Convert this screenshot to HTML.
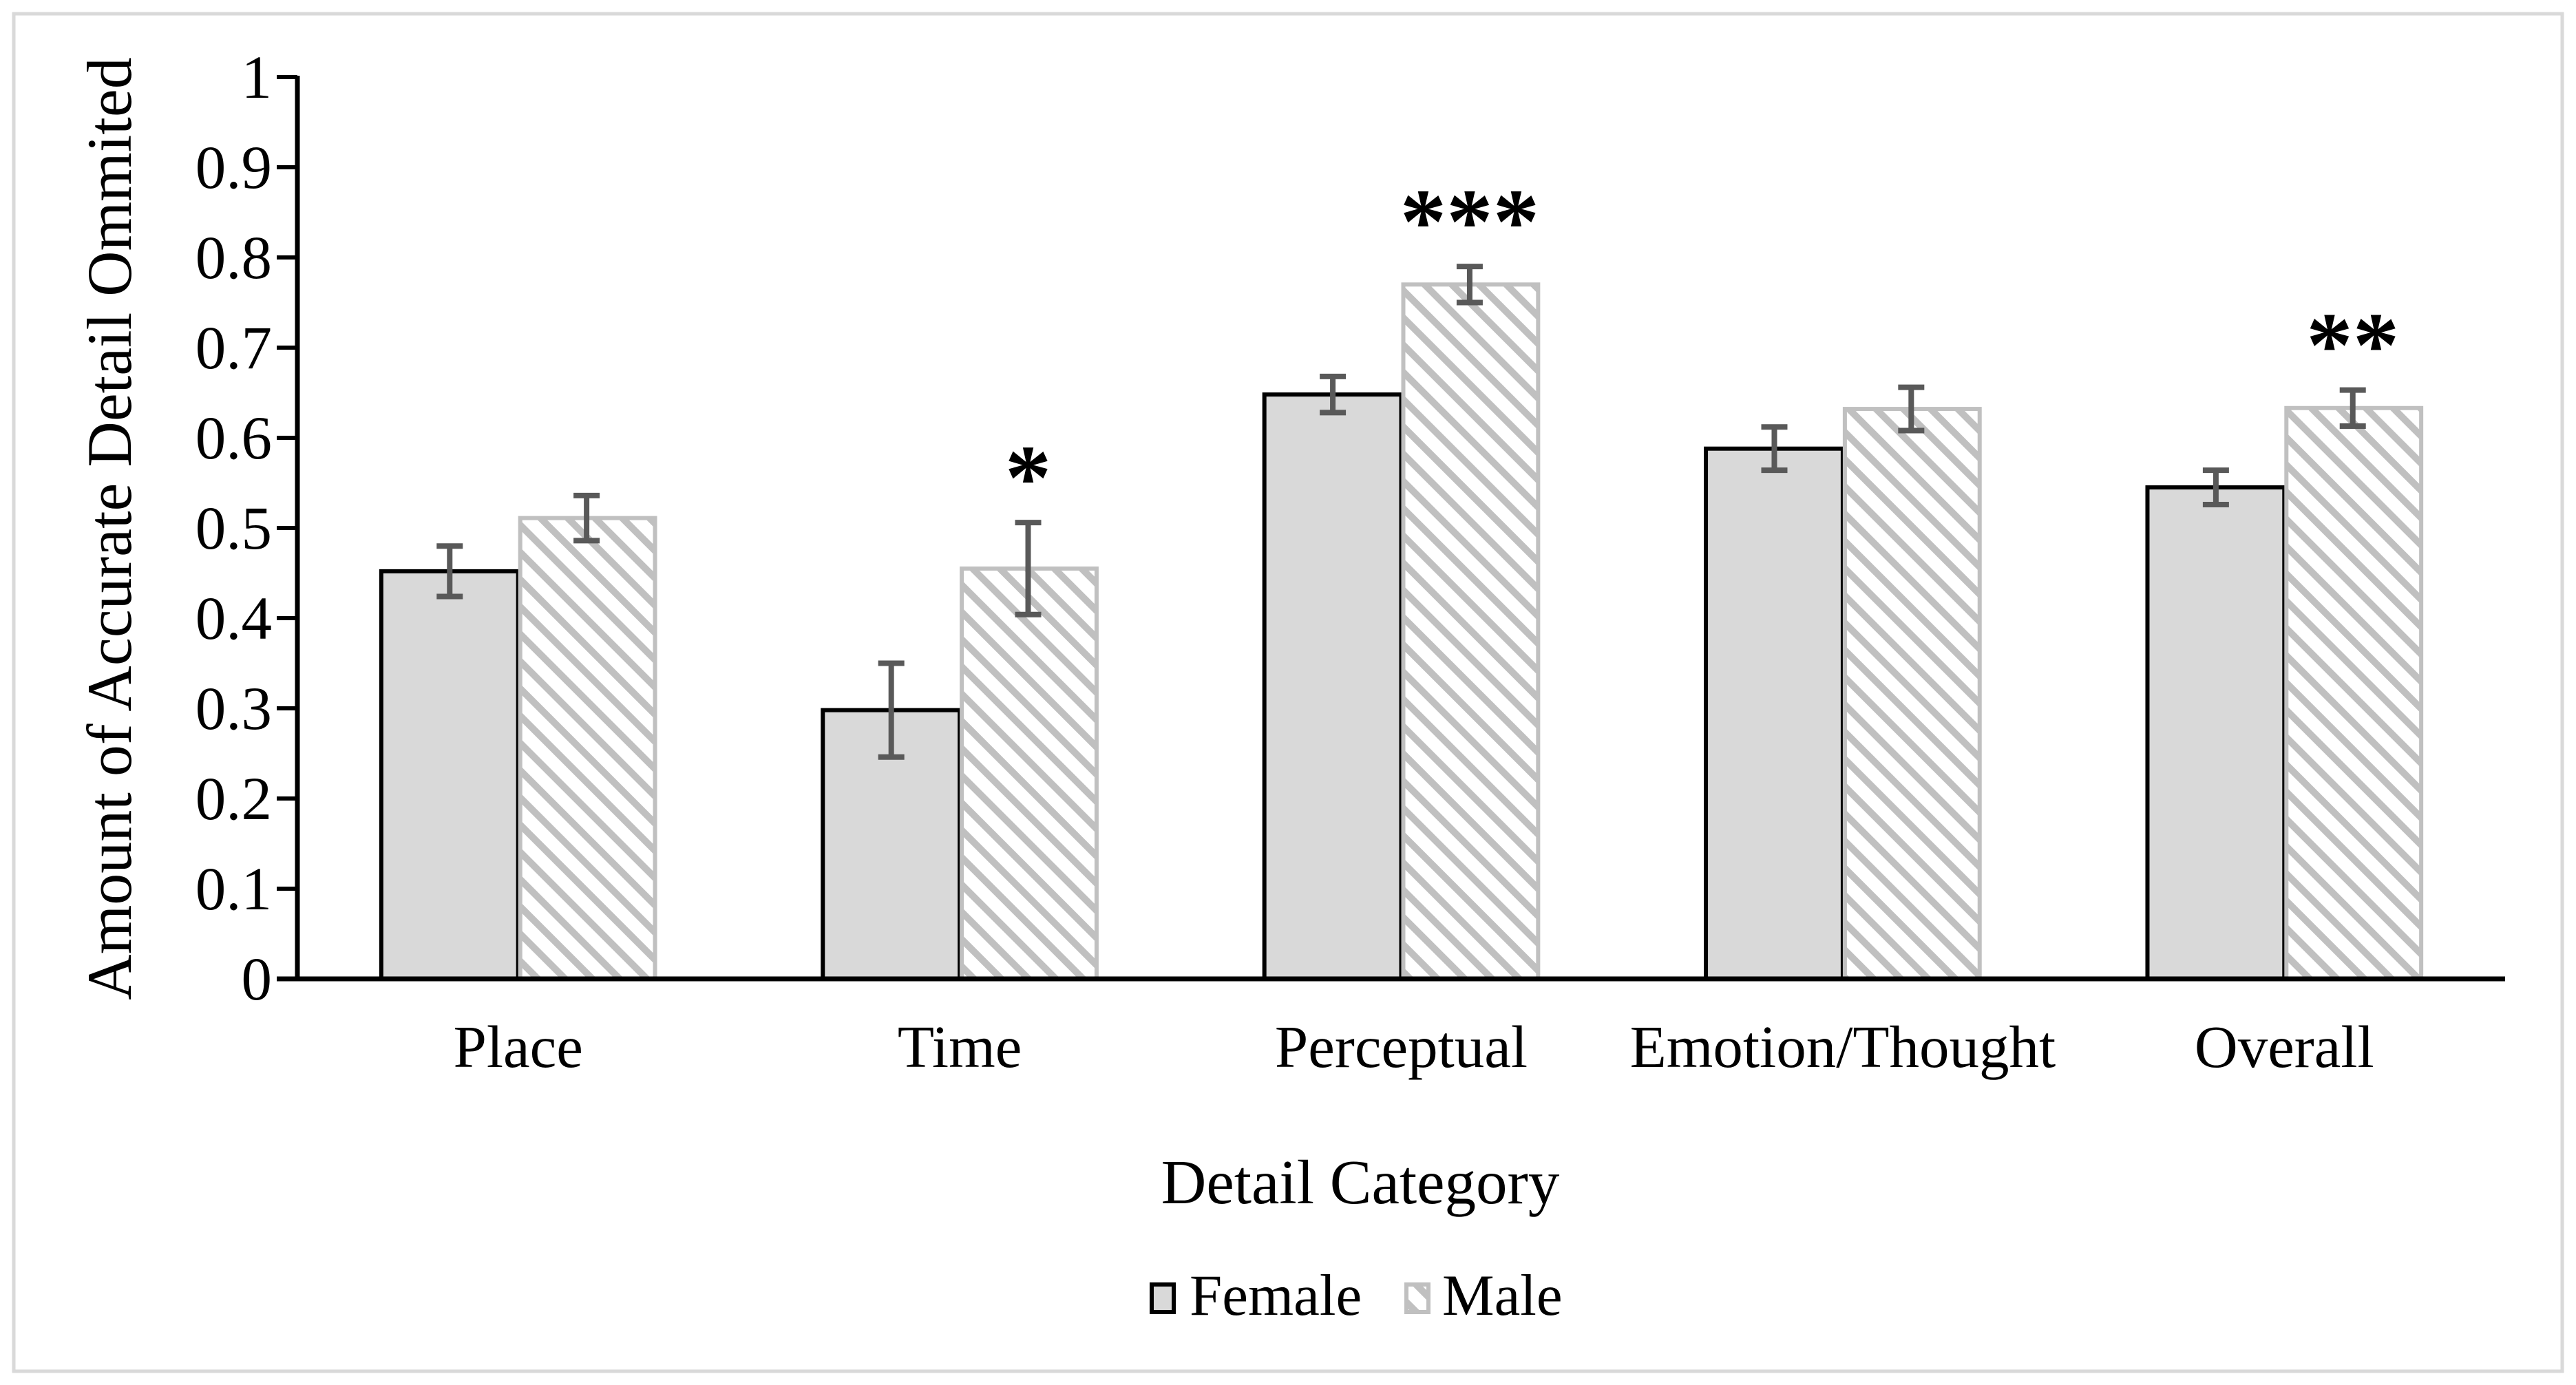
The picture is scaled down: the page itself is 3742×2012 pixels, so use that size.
<!DOCTYPE html>
<html><head><meta charset="utf-8"><style>
html,body{margin:0;padding:0;background:#fff}
svg{display:block}
text{font-family:"Liberation Serif",serif;fill:#000}
</style></head><body>
<svg id="chart" width="3742" height="2012" viewBox="0 0 3742 2012" xmlns="http://www.w3.org/2000/svg">
<defs>
<pattern id="hatch" patternUnits="userSpaceOnUse" width="28" height="28" patternTransform="rotate(45)">
<rect width="28" height="28" fill="#fff"/>
<rect x="0" y="0" width="28" height="10" fill="#c0c0c0"/>
</pattern>
</defs>
<rect x="20" y="20" width="3702" height="1972" fill="#fff" stroke="#d9d9d9" stroke-width="5"/>
<g id="plot"></g>
<text transform="translate(190,768) rotate(-90)" text-anchor="middle" font-size="92">Amount of Accurate Detail Ommited</text>
<text x="1976" y="1748" text-anchor="middle" font-size="91">Detail Category</text>
<g>
<rect x="1673" y="1866" width="32" height="40" fill="#d9d9d9" stroke="#000" stroke-width="6"/>
<text x="1728" y="1910" font-size="85">Female</text>
<rect x="2043" y="1866" width="32" height="40" fill="url(#hatch)" stroke="#c0c0c0" stroke-width="6"/>
<text x="2095" y="1910" font-size="85">Male</text>
</g>
</svg>
<script>
const categories = ["Place","Time","Perceptual","Emotion/Thought","Overall"];
const femaleValues = [0.452,0.298,0.648,0.588,0.545];
const maleValues = [0.511,0.455,0.770,0.632,0.633];
const femaleErrors = [0.028,0.052,0.020,0.024,0.019];
const maleErrors = [0.025,0.051,0.020,0.024,0.020];
const significance = ["","*","***","","**"];
const yTicks = [0,0.1,0.2,0.3,0.4,0.5,0.6,0.7,0.8,0.9,1];
const yTickLabels = ["0","0.1","0.2","0.3","0.4","0.5","0.6","0.7","0.8","0.9","1"];

const NS="http://www.w3.org/2000/svg";
const X0=432, X1=3639, Y0=1422, Y1=112;
const y = v => Y0 - (v-0)/(1-0)*(Y0-Y1);
const bandW = (X1-X0)/categories.length;
const xc = i => X0 + bandW*(i+0.5);
const barW = bandW*0.31;
const g = document.getElementById('plot');
function mk(tag, attrs){const e=document.createElementNS(NS,tag);for(const k in attrs)e.setAttribute(k,attrs[k]);g.appendChild(e);return e;}

yTicks.forEach((t,i)=>{
  const tk=mk('line',{x1:X0-30,x2:X0,y1:y(t),y2:y(t),stroke:'#000','stroke-width':6});
  
  
  const tl=mk('text',{x:395,y:y(t)+30,'text-anchor':'end','font-size':89});
  tl.textContent=yTickLabels[i];
  
  
});

categories.forEach((c,i)=>{
  const cx=xc(i);
  const fb=mk('rect',{x:cx-barW,y:y(femaleValues[i]),width:barW,height:Y0-y(femaleValues[i]),fill:'#d9d9d9',stroke:'#000','stroke-width':6});
  
  
  const mb=mk('rect',{x:cx+3,y:y(maleValues[i]),width:barW-3,height:Y0-y(maleValues[i]),fill:'url(#hatch)',stroke:'#c0c0c0','stroke-width':6});
  
  
  [[cx-barW/2,femaleValues[i],femaleErrors[i]],[cx+barW/2,maleValues[i],maleErrors[i]]].forEach(([ex,v,e])=>{
    const eb=mk('path',{d:`M${ex-19},${y(v+e)}H${ex+19}M${ex},${y(v+e)}V${y(v-e)}M${ex-19},${y(v-e)}H${ex+19}`,stroke:'#595959','stroke-width':8,fill:'none'});
    
    
  });
  if(significance[i]){
    const s=mk('text',{x:cx+barW/2,y:y(maleValues[i]+maleErrors[i])-20,'text-anchor':'middle','font-size':135,'font-weight':'bold'});
    s.textContent=significance[i];
    
    
  }
  const lb=mk('text',{x:cx,y:1550,'text-anchor':'middle','font-size':87});
  lb.textContent=c;
  
  
});

const ax=mk('line',{x1:X0,x2:X0,y1:Y1-2,y2:Y0,stroke:'#000','stroke-width':7});


const xa=mk('line',{x1:X0-30,x2:X1,y1:Y0,y2:Y0,stroke:'#000','stroke-width':7});


</script>
</body></html>
